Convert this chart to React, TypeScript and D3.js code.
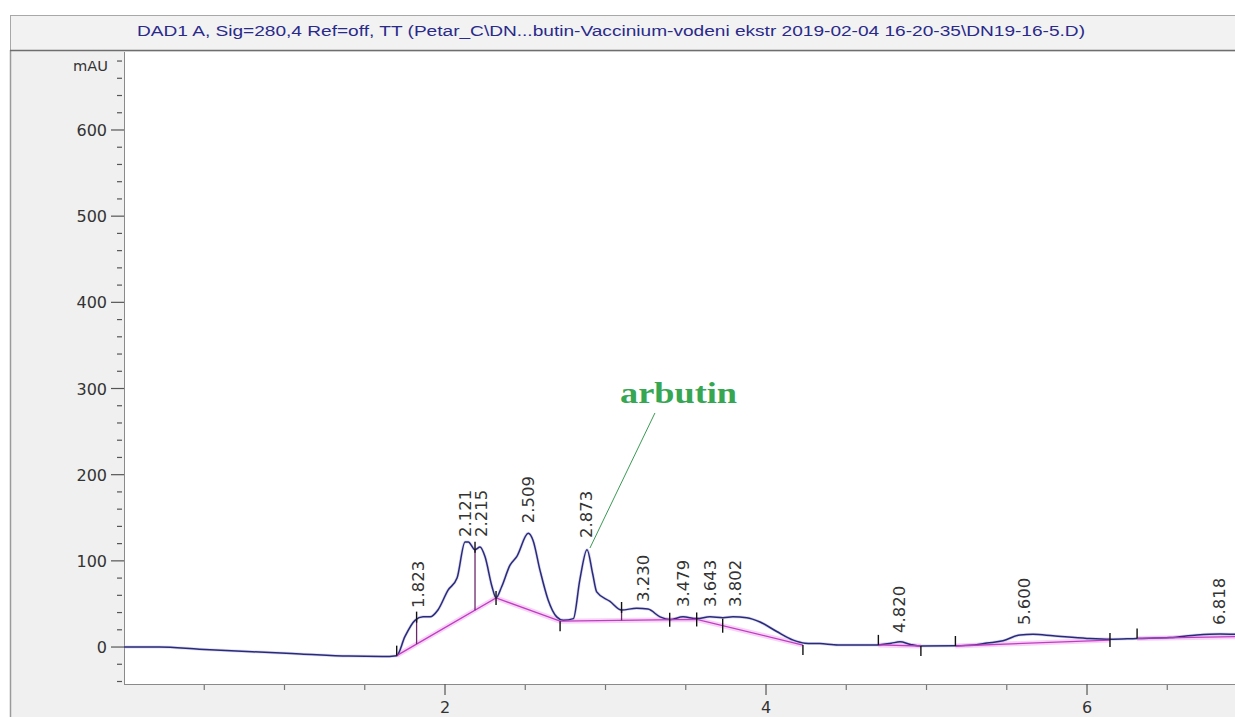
import React from 'react';
import * as d3 from 'd3';

// ---------- data ----------
const titleText =
  'DAD1 A, Sig=280,4 Ref=off, TT (Petar_C\\DN...butin-Vaccinium-vodeni ekstr 2019-02-04 16-20-35\\DN19-16-5.D)';
const yUnit = 'mAU';

const traceTime = [
  0.0, 0.22, 0.47, 0.8, 1.1, 1.4, 1.61, 1.699, 1.75, 1.813, 1.863, 1.907, 1.956, 2.019, 2.075,
  2.125, 2.145, 2.187, 2.218, 2.249, 2.293, 2.318, 2.353, 2.405, 2.447, 2.519, 2.548, 2.592,
  2.642, 2.696, 2.737, 2.8, 2.84, 2.885, 2.92, 2.945, 3.028, 3.1, 3.194, 3.265, 3.34, 3.402,
  3.483, 3.568, 3.651, 3.732, 3.794, 3.88, 3.963, 4.067, 4.17, 4.243, 4.336, 4.45, 4.6, 4.7,
  4.78, 4.835, 4.9, 4.965, 5.18, 5.3, 5.377, 5.477, 5.583, 5.664, 5.788, 6.0, 6.143, 6.312,
  6.517, 6.685, 6.829, 6.922,
];
const traceSignal = [
  0, 0, -2.5, -5.5, -8, -10.5, -11, -10, 12, 31, 35, 35, 43, 66, 80,
  122, 122, 113, 116, 105, 70, 57, 70, 95, 105, 132, 124, 89,
  55, 35, 31, 33, 78, 113, 85, 64, 53, 43, 45, 44, 35, 32,
  35, 33, 35, 34, 35, 34, 29, 18, 8, 4.5, 4, 2.5, 2.3, 2.5,
  4.5, 6, 3, 1.2, 1.5, 2.5, 4.6, 7.3, 14, 14.7, 13, 10, 9, 10,
  11, 14, 15, 14.7,
];

// integration baselines (time, signal)
const baselineTime = [
  [1.699, 2.318, 2.717, 3.568, 4.23],
  [4.7, 4.965],
  [5.18, 6.143],
  [6.312, 6.922],
];
const baselineSignal = [
  [-10, 57, 30, 32, 2.3],
  [2.5, 1.2],
  [1.2, 8.1],
  [10, 12],
];

// peak start/end marks
const boundaryTimes = [1.699, 2.318, 2.717, 3.4, 3.568, 3.73, 4.23, 4.7, 4.965, 5.18, 6.143, 6.312];
const boundaryDirs = ['up', 'mid', 'down', 'mid', 'mid', 'mid', 'down', 'up', 'down', 'up', 'mid', 'up'];
const dropTimes = [1.823, 2.187, 3.1];

const peakTimes = [1.823, 2.121, 2.215, 2.509, 2.873, 3.23, 3.479, 3.643, 3.802, 4.82, 5.6, 6.818];
const peakHeights = [33.7, 116, 116, 132, 115, 40.6, 34.8, 34.8, 34.8, 4.6, 13.9, 13.9];

const annotationText = 'arbutin';
const annotationTextPos = [3.455, 283];
const annotationLineStart = [3.308, 271.6];
const annotationLineEnd = [2.903, 114.9];

const yMajor = [0, 100, 200, 300, 400, 500, 600];
const yMinor = d3.range(-40, 681, 20);
const xMajor = [2, 4, 6];
const xMinor = [0.5, 1, 1.5, 2.5, 3, 3.5, 4.5, 5, 5.5, 6.5];

// ---------- layout ----------
const W = 1235;
const H = 717;
const plotLeft = 124;
const plotRight = 1235;
const plotTop = 52;
const plotBottom = 684;

const x = d3.scaleLinear().domain([0, 6.922]).range([plotLeft, plotRight]);
const y = d3.scaleLinear().domain([-42.9, 690.5]).range([plotBottom, plotTop]);

function interp(ts: number[], vs: number[], t: number) {
  for (let i = 0; i < ts.length - 1; i++) {
    if (t >= ts[i] && t <= ts[i + 1]) {
      const f = (t - ts[i]) / (ts[i + 1] - ts[i]);
      return vs[i] + f * (vs[i + 1] - vs[i]);
    }
  }
  return NaN;
}
function baselineAt(t: number) {
  for (let s = 0; s < baselineTime.length; s++) {
    const v = interp(baselineTime[s], baselineSignal[s], t);
    if (!isNaN(v)) return v;
  }
  return interp(traceTime, traceSignal, t);
}

export default function App() {
  const tracePts = traceTime.map((t, i) => [t, traceSignal[i]] as [number, number]);
  const line = d3
    .line<[number, number]>()
    .x((d) => x(d[0]))
    .y((d) => y(d[1]))
    .curve(d3.curveMonotoneX);
  const straight = d3
    .line<[number, number]>()
    .x((d) => x(d[0]))
    .y((d) => y(d[1]));
  const baselinePaths = baselineTime.map((ts, s) =>
    straight(ts.map((t, i) => [t, baselineSignal[s][i]] as [number, number]))
  );

  const axisColor = '#8a8a8a';
  const textColor = '#333';

  return (
    <svg
      width={W}
      height={H}
      style={{ position: 'absolute', left: 0, top: 0, background: '#fff' }}
      fontFamily="DejaVu Sans, sans-serif"
    >
      <defs>
        <clipPath id="plotClip">
          <rect x={plotLeft} y={plotTop} width={plotRight - plotLeft} height={plotBottom - plotTop} />
        </clipPath>
      </defs>

      {/* outer gray frame */}
      <rect x={10} y={50} width={W - 10} height={H - 50} fill="#f0f0f0" />
      <line x1={10.5} x2={10.5} y1={50} y2={H} stroke="#9a9a9a" strokeWidth={1.5} />

      {/* title bar */}
      <rect x={10.5} y={15.5} width={W} height={35} fill="#f2f2f2" stroke="#a8a8a8" />
      <line x1={10} x2={W} y1={50.5} y2={50.5} stroke="#6e6e6e" strokeWidth={1.5} />
      <text
        x={611}
        y={36}
        textAnchor="middle"
        fontFamily="Liberation Sans, Arial, sans-serif"
        fontSize={15.5}
        fill="#2a2a8a"
        textLength={948}
        lengthAdjust="spacingAndGlyphs"
      >
        {titleText}
      </text>

      {/* plot area */}
      <rect x={plotLeft} y={plotTop} width={plotRight - plotLeft} height={plotBottom - plotTop} fill="#fff" />
      <line x1={plotLeft + 0.5} x2={plotLeft + 0.5} y1={plotTop} y2={plotBottom} stroke={axisColor} />
      <line x1={plotLeft} x2={plotRight} y1={plotBottom + 0.5} y2={plotBottom + 0.5} stroke={axisColor} />

      {/* y axis */}
      {yMinor
        .filter((v) => !yMajor.includes(v))
        .map((v) => (
          <line key={'ym' + v} x1={117} x2={122} y1={y(v)} y2={y(v)} stroke="#555" strokeWidth={1.2} />
        ))}
      {yMajor.map((v) => (
        <g key={'yM' + v}>
          <line x1={111} x2={124} y1={y(v)} y2={y(v)} stroke="#555" strokeWidth={1.2} />
          <text x={107} y={y(v) + 6} textAnchor="end" fontSize={16} fill={textColor}>
            {v}
          </text>
        </g>
      ))}
      <text x={108} y={71} textAnchor="end" fontSize={14.5} fill={textColor} textLength={35} lengthAdjust="spacingAndGlyphs">
        {yUnit}
      </text>

      {/* x axis */}
      {xMinor.map((t) => (
        <line key={'xm' + t} x1={x(t)} x2={x(t)} y1={plotBottom + 1} y2={plotBottom + 6} stroke="#777" strokeWidth={1.2} />
      ))}
      {xMajor.map((t) => (
        <g key={'xM' + t}>
          <line x1={x(t)} x2={x(t)} y1={plotBottom} y2={plotBottom + 11} stroke="#555" strokeWidth={1.2} />
          <text x={x(t)} y={713} textAnchor="middle" fontSize={16} fill={textColor}>
            {t}
          </text>
        </g>
      ))}

      <g clipPath="url(#plotClip)">
        {/* baseline glow */}
        {baselinePaths.map((p, i) => (
          <path key={'bg' + i} d={p || ''} fill="none" stroke="#f2b8f2" strokeWidth={5} opacity={0.6} />
        ))}
        {/* trace */}
        <path d={line(tracePts) || ''} fill="none" stroke="#b8b8e8" strokeWidth={3} opacity={0.5} />
        <path d={line(tracePts) || ''} fill="none" stroke="#2a2a78" strokeWidth={1.5} />
        {/* baselines */}
        {baselinePaths.map((p, i) => (
          <path key={'b' + i} d={p || ''} fill="none" stroke="#c23cc2" strokeWidth={1.3} />
        ))}

        {/* drop lines */}
        {dropTimes.map((t) => {
          const yb = y(baselineAt(t));
          const yt = y(interp(traceTime, traceSignal, t));
          return (
            <g key={'d' + t}>
              <line x1={x(t)} x2={x(t)} y1={yb} y2={yt} stroke="#6a2a6a" strokeWidth={1.3} />
              <line x1={x(t)} x2={x(t)} y1={yt + 3} y2={yt - 8} stroke="#111" strokeWidth={1.4} />
            </g>
          );
        })}

        {/* boundary ticks */}
        {boundaryTimes.map((t, i) => {
          const yb = y(baselineAt(t));
          const dir = boundaryDirs[i];
          const y1 = dir === 'up' ? yb - 10 : dir === 'down' ? yb : yb - 7;
          const y2 = dir === 'up' ? yb : dir === 'down' ? yb + 10 : yb + 7;
          return <line key={'t' + t} x1={x(t)} x2={x(t)} y1={y1} y2={y2} stroke="#111" strokeWidth={1.4} />;
        })}

        {/* peak labels */}
        {peakTimes.map((t, i) => {
          const cx = x(t) + 1 + 6;
          const by = y(peakHeights[i]) - 10;
          return (
            <text
              key={'p' + t}
              transform={`translate(${cx},${by}) rotate(-90)`}
              fontSize={16.5}
              fill={textColor}
            >
              {t.toFixed(3)}
            </text>
          );
        })}
      </g>

      {/* annotation */}
      <line
        x1={x(annotationLineStart[0])}
        y1={y(annotationLineStart[1])}
        x2={x(annotationLineEnd[0])}
        y2={y(annotationLineEnd[1])}
        stroke="#3a9a55"
        strokeWidth={1}
      />
      <text
        x={x(annotationTextPos[0])}
        y={y(annotationTextPos[1])}
        textAnchor="middle"
        fontFamily="Liberation Serif, Times New Roman, serif"
        fontWeight="bold"
        fontSize={30}
        fill="#36a652"
        textLength={117}
        lengthAdjust="spacingAndGlyphs"
      >
        {annotationText}
      </text>
    </svg>
  );
}
